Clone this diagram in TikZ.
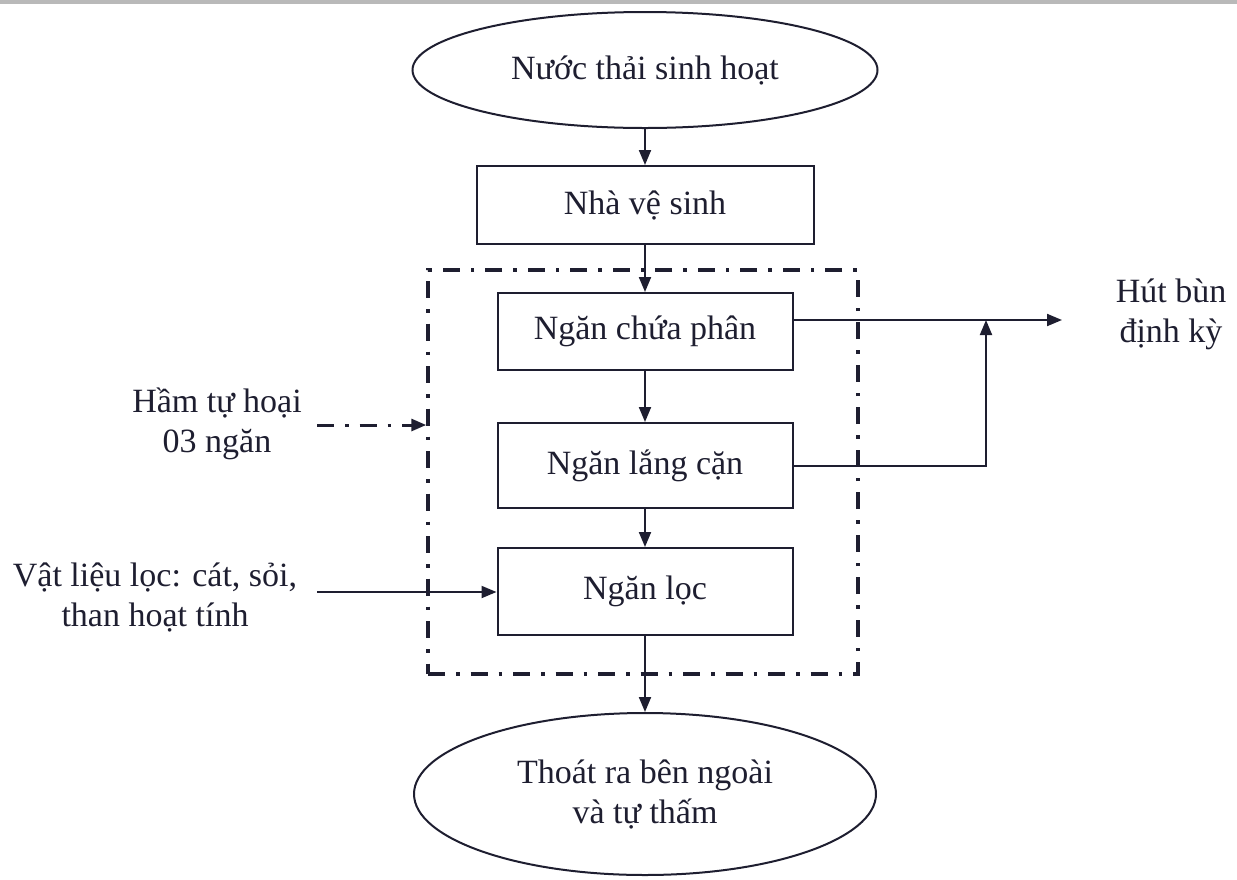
\documentclass[tikz,border=0pt]{standalone}
\usepackage{fontspec}
\setmainfont{Liberation Serif}
\usetikzlibrary{shapes.geometric,arrows.meta}
\definecolor{ink}{RGB}{30,30,48}
\tikzset{
  txt/.style={font=\fontsize{34}{40}\selectfont, text=ink, align=center},
  proc/.style={txt, draw=ink, line width=2pt, minimum width=295pt, inner sep=0pt},
  oval/.style={txt, draw=ink, line width=2pt, ellipse, inner sep=0pt},
  arr/.style={draw=ink, line width=2pt, -{Triangle[length=15pt,width=12pt]}},
  dashdot/.style={dash pattern=on 17pt off 11pt on 3.5pt off 11pt},
  tankbox/.style={draw=ink, line width=3.5pt, dashdot, minimum width=430pt, minimum height=404pt, inner sep=0pt},
}
\begin{document}
\begin{tikzpicture}[x=1pt,y=-1pt]
\useasboundingbox (0,0) rectangle (1237,879);
\fill[gray!55] (0,0) rectangle (1237,4);
% main column
\node[oval, minimum width=465pt, minimum height=116pt] (src) at (645,70) {Nước thải sinh hoạt};
\node[proc, minimum width=337pt, minimum height=78pt] (wc) at (645,205) {Nhà vệ sinh};
\node[tankbox] (tank) at (643,472) {};
\node[proc, minimum height=77pt] (chua) at (645,331.5) {Ngăn chứa phân};
\node[proc, minimum height=85pt] (lang) at (645,465.5) {Ngăn lắng cặn};
\node[proc, minimum height=87pt] (loc) at (645,591.5) {Ngăn lọc};
\node[oval, minimum width=462pt, minimum height=162pt] (out) at (645,794) {Thoát ra bên ngoài\\và tự thấm};
% side labels
\node[txt] (ham) at (217,424) {Hầm tự hoại\\03 ngăn};
\node[txt] (vl) at (155,597) {Vật liệu lọc: cát, sỏi,\\than hoạt tính};
\node[txt] (hut) at (1171,314) {Hút bùn\\định kỳ};
% connectors
\draw[arr] (src.south) -- (wc.north);
\draw[arr] (wc.south) -- (chua.north);
\draw[arr] (chua.south) -- (lang.north);
\draw[arr] (lang.south) -- (loc.north);
\draw[arr] (loc.south) -- (out.north);
\coordinate (hutin) at (1062,320);
\coordinate (junc) at (986,320);
\draw[arr] (chua.east |- hutin) -- (hutin);
\draw[arr] (lang.east) -| (junc);
\coordinate (hamst) at (317,425);
\draw[arr, dashdot, line width=3pt] (hamst) -- (hamst -| tank.west);
\coordinate (vlst) at (317,592);
\draw[arr] (vlst) -- (vlst -| loc.west);
\end{tikzpicture}
\end{document}
